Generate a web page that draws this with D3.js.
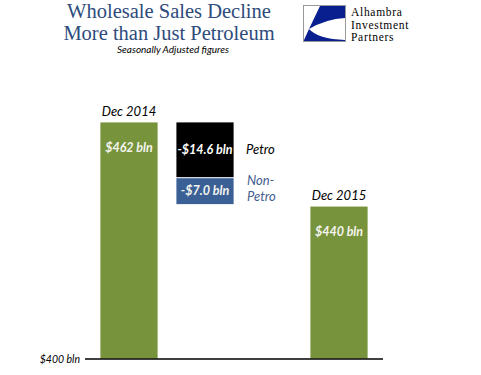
<!DOCTYPE html>
<html>
<head>
<meta charset="utf-8">
<script src="https://cdn.jsdelivr.net/npm/d3@7"></script>
<style>
  body { margin: 0; background: #fff; }
  svg { display: block; }
</style>
</head>
<body>
<div id="chart"></div>
<script>
// chart values
var categories = ["Dec 2014", "Change", "Dec 2015"];
var startValue = 462;   // Dec 2014, $ bln
var petroChange = -14.6;
var nonPetroChange = -7.0;
var endValue = 440;     // Dec 2015
var baseValue = 400;    // axis floor
var barLabels = ["$462 bln", "-$14.6 bln", "-$7.0 bln", "$440 bln"];
var baseLabel = "$400 bln";

var w = 481, h = 375;

var svg = d3.select("#chart").append("svg")
  .attr("width", w)
  .attr("height", h);

var y = d3.scaleLinear()
  .domain([baseValue, startValue])
  .range([359, 122]);

// columns are not evenly spaced in the original
var x = d3.scaleOrdinal()
  .domain(categories)
  .range([100, 176, 310]);
var bw = 58;

var green = "#77933c", blue = "#3b6096", navy = "#2e4b7c";
var labelFont = "Lato, 'Open Sans', sans-serif";

// waterfall pieces
var afterPetro = startValue + petroChange;
var pieces = [
  {cat: "Dec 2014", lo: baseValue, hi: startValue, fill: green, label: barLabels[0]},
  {cat: "Change", lo: afterPetro, hi: startValue, fill: "#000", label: barLabels[1]},
  {cat: "Change", lo: afterPetro + nonPetroChange, hi: afterPetro, fill: blue, label: barLabels[2]},
  {cat: "Dec 2015", lo: baseValue, hi: endValue, fill: green, label: barLabels[3]}
];

svg.selectAll("rect.bar")
  .data(pieces)
  .enter()
  .append("rect")
  .attr("class", "bar")
  .attr("x", function(d) { return x(d.cat); })
  .attr("y", function(d) { return y(d.hi); })
  .attr("width", bw)
  .attr("height", function(d) { return y(d.lo) - y(d.hi); })
  .attr("stroke", "#fff")
  .attr("stroke-width", 0.8)
  .style("fill", function(d) { return d.fill; });

// value labels inside bars
svg.selectAll("text.val")
  .data(pieces)
  .enter()
  .append("text")
  .attr("class", "val")
  .attr("x", function(d) { return x(d.cat) + bw / 2; })
  .attr("y", function(d, i) {
    if (i == 1 || i == 2) return (y(d.hi) + y(d.lo)) / 2 + 4;
    return y(d.hi) + 30;
  })
  .attr("text-anchor", "middle")
  .attr("fill", function(d, i) { return i == 1 ? "#fff" : "#f4f4ee"; })
  .style("font", "italic bold 12.5px " + labelFont)
  .text(function(d) { return d.label; });

// category labels above totals
svg.append("text")
  .attr("x", x("Dec 2014") + bw / 2).attr("y", y(startValue) - 6)
  .attr("text-anchor", "middle")
  .style("font", "italic 13px " + labelFont)
  .text(categories[0]);

svg.append("text")
  .attr("x", x("Dec 2015") + bw / 2).attr("y", y(endValue) - 6)
  .attr("text-anchor", "middle")
  .style("font", "italic 13px " + labelFont)
  .text(categories[2]);

// side legend labels
svg.append("text")
  .attr("x", x("Change") + bw + 12).attr("y", y((startValue + afterPetro) / 2) + 4)
  .style("font", "italic 13px " + labelFont)
  .text("Petro");

var np = svg.append("text")
  .attr("x", x("Change") + bw + 13)
  .attr("y", y(afterPetro + nonPetroChange / 2) - 6)
  .attr("fill", "#44608f")
  .style("font", "italic 13px " + labelFont);
np.append("tspan").text("Non-");
np.append("tspan").attr("x", x("Change") + bw + 13).attr("dy", 16).text("Petro");

// baseline
svg.append("line")
  .attr("x1", 85).attr("x2", 383)
  .attr("y1", y(baseValue)).attr("y2", y(baseValue))
  .attr("stroke", "#000")
  .attr("stroke-width", 1.5);

svg.append("text")
  .attr("x", 80).attr("y", y(baseValue) + 3.5)
  .attr("text-anchor", "end")
  .style("font", "italic 10.5px " + labelFont)
  .text(baseLabel);

// title
var titleFont = "20.5px 'Liberation Serif', 'DejaVu Serif', serif";
svg.append("text")
  .attr("x", 169).attr("y", 18)
  .attr("text-anchor", "middle")
  .attr("fill", navy)
  .style("font", titleFont)
  .text("Wholesale Sales Decline");

svg.append("text")
  .attr("x", 169).attr("y", 40)
  .attr("text-anchor", "middle")
  .attr("fill", navy)
  .style("font", titleFont)
  .text("More than Just Petroleum");

svg.append("text")
  .attr("x", 173).attr("y", 53)
  .attr("text-anchor", "middle")
  .style("font", "italic 10px " + labelFont)
  .text("Seasonally Adjusted figures");

// logo
var logo = svg.append("g");
logo.append("rect")
  .attr("x", 303.5).attr("y", 5.5).attr("width", 42).attr("height", 36)
  .attr("fill", "#fff").attr("stroke", "#999").attr("stroke-width", 1);
logo.append("path")
  .attr("d", "M320,6 L345,6 L345,18 Q326,19 309,29 Z")
  .attr("fill", "#0a1f8f");
logo.append("path")
  .attr("d", "M309,29 Q318,39 345,40 L345,41 L304,41 L304,40 Z")
  .attr("fill", "#0a1f8f");

var brand = ["Alhambra", "Investment", "Partners"];
svg.selectAll("text.brand")
  .data(brand)
  .enter()
  .append("text")
  .attr("class", "brand")
  .attr("x", 351)
  .attr("y", function(d, i) { return 16 + i * 12.5; })
  .style("font", "11.5px 'Liberation Serif', serif")
  .style("letter-spacing", "0.7px")
  .text(function(d) { return d; });
</script>
</body>
</html>
